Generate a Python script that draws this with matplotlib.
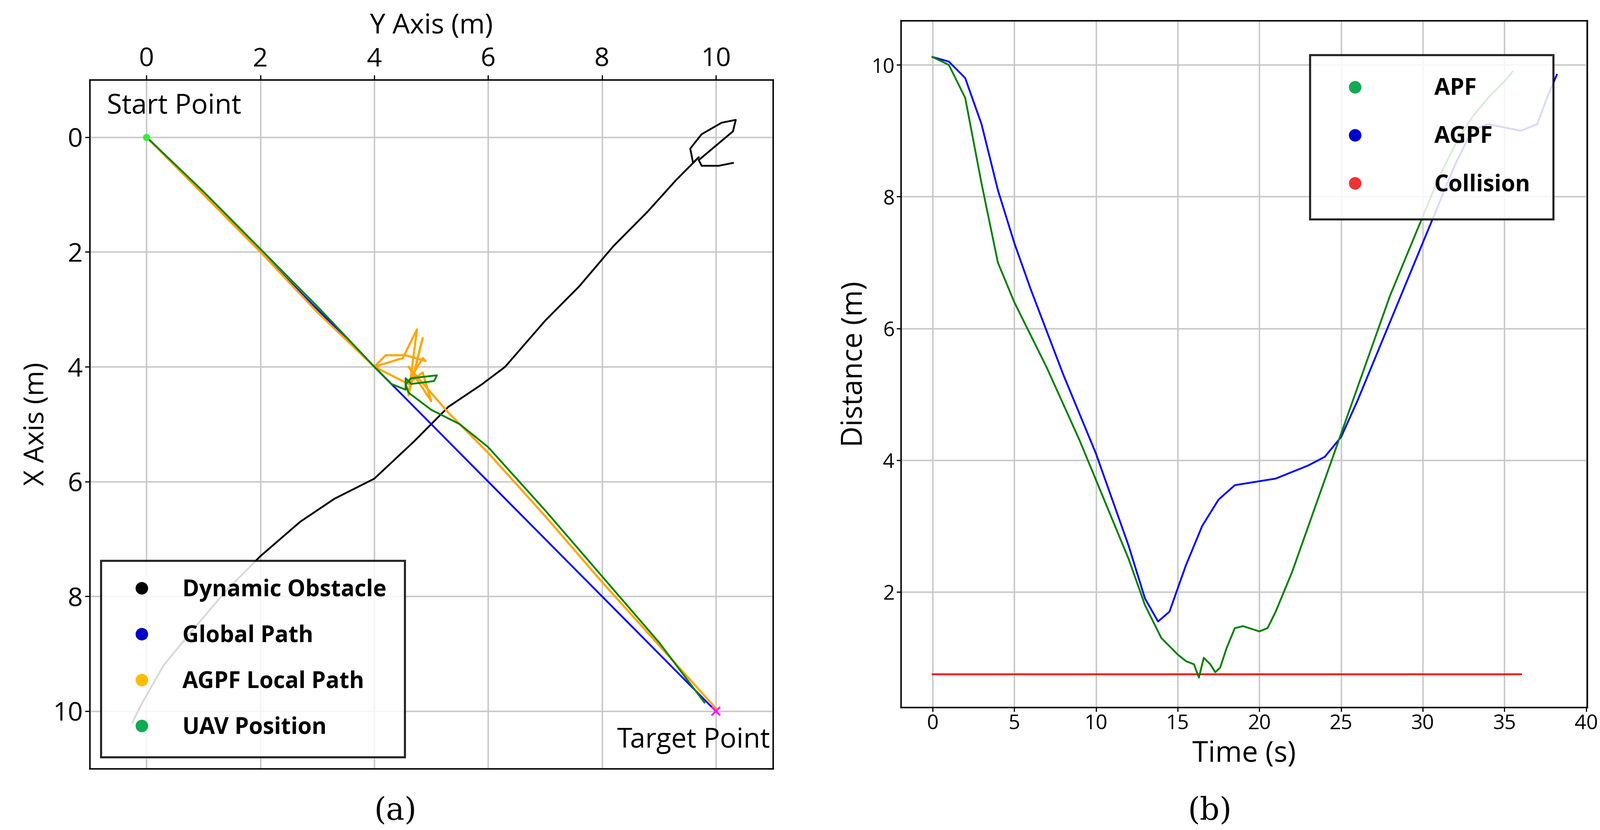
import matplotlib.pyplot as plt
from matplotlib.lines import Line2D

# ---- panel (a): paths, plotted as (Y, X) in metres ----
obs_y = [-0.25, -0.1, 0.3, 0.8, 1.4, 2.0, 2.7, 3.3, 4.0, 4.7, 5.3, 5.9, 6.3, 7.0, 7.6, 8.2, 8.8, 9.3, 9.7,
         9.6, 9.55, 9.75, 10.1, 10.35, 10.3, 10.0, 9.7, 9.75, 10.05, 10.3]
obs_x = [10.2, 9.9, 9.2, 8.6, 7.9, 7.3, 6.7, 6.3, 5.95, 5.3, 4.7, 4.3, 4.0, 3.2, 2.6, 1.9, 1.3, 0.75, 0.35,
         0.45, 0.2, -0.05, -0.25, -0.3, -0.1, 0.15, 0.4, 0.5, 0.5, 0.45]
glob_y = [0, 4, 10]
glob_x = [0, 4, 10]
uav_y = [0, 1, 2, 3, 4, 4.3, 4.55, 4.55, 4.65, 5.05, 5.1, 4.65, 4.55, 4.6, 5.0, 5.5, 6.0, 7.0, 8.0, 9.0, 9.8]
uav_x = [0, 0.95, 1.95, 2.95, 4.0, 4.3, 4.4, 4.2, 4.3, 4.25, 4.15, 4.2, 4.3, 4.45, 4.75, 5.0, 5.4, 6.5, 7.65, 8.8, 9.85]
loc_y = [0, 1, 2, 3, 4, 4.5, 4.75, 4.6, 4.85, 4.7, 4.85, 4.9, 4.55, 4.2, 4.0, 4.6, 4.85, 5.0, 4.6, 5.3, 6.0, 7.0, 8.0, 9.0, 10.0]
loc_x = [0, 1.0, 2.0, 3.05, 4.0, 3.85, 3.35, 4.5, 3.5, 4.1, 3.85, 3.9, 3.8, 3.8, 4.0, 4.3, 4.1, 4.6, 4.0, 4.8, 5.5, 6.6, 7.75, 8.85, 9.95]

# ---- panel (b): distance to obstacle over time ----
agpf_t = [0, 1, 2, 3, 4, 5, 6, 7, 8, 9, 10, 11, 12, 13, 13.8, 14.5, 15.5, 16.5, 17.5, 18.5, 20, 21, 22, 23,
          24, 25, 26, 27, 28, 29, 30, 31, 32, 33, 34, 35, 36, 37, 37.6, 38.2]
agpf_d = [10.12, 10.05, 9.8, 9.1, 8.1, 7.3, 6.6, 5.95, 5.3, 4.7, 4.1, 3.4, 2.7, 1.9, 1.55, 1.7, 2.4, 3.0, 3.4,
          3.62, 3.68, 3.72, 3.82, 3.92, 4.05, 4.35, 4.9, 5.5, 6.1, 6.7, 7.3, 7.9, 8.5, 9.0, 9.1, 9.05, 9.0, 9.1, 9.5, 9.85]
apf_t = [0, 1, 2, 3, 4, 5, 6, 7, 8, 9, 10, 11, 12, 13, 14, 15, 15.5, 16, 16.3, 16.6, 17, 17.3, 17.6, 18, 18.5,
         19, 20, 20.5, 21, 22, 23, 24, 25, 26, 27, 28, 29, 30, 31, 32, 33, 34, 35, 35.5]
apf_d = [10.12, 10.0, 9.5, 8.2, 7.0, 6.4, 5.9, 5.4, 4.85, 4.3, 3.7, 3.1, 2.5, 1.8, 1.3, 1.05, 0.95, 0.9, 0.7,
         1.0, 0.9, 0.78, 0.85, 1.15, 1.45, 1.48, 1.4, 1.45, 1.7, 2.3, 3.0, 3.7, 4.4, 5.1, 5.8, 6.5, 7.1, 7.7,
         8.3, 8.8, 9.2, 9.5, 9.75, 9.9]
coll_t = [0, 36]
coll_d = [0.75, 0.75]

plt.rcParams['font.family'] = 'Open Sans'
fig = plt.figure(figsize=(37.28, 19.35), dpi=100)

ax1 = fig.add_axes([0.056, 0.074, 0.427, 0.83])
ax1.plot(obs_y, obs_x, color='black', lw=3)
ax1.plot(glob_y, glob_x, color='blue', lw=3)
ax1.plot(loc_y, loc_x, color='orange', lw=3.5)
ax1.plot(uav_y, uav_x, color='green', lw=3)
ax1.plot([0], [0], 'o', color='#33ee33', ms=11)
ax1.plot([10], [10], 'x', color='magenta', ms=14, mew=3)
ax1.text(-0.7, -0.3, 'Start Point', fontsize=46, va='bottom')
ax1.text(10.95, 10.75, 'Target Point', fontsize=46, ha='right', va='bottom')
ax1.set_xlim(-1, 11)
ax1.set_ylim(11, -1)
ax1.xaxis.tick_top()
ax1.xaxis.set_label_position('top')
ax1.set_xticks([0, 2, 4, 6, 8, 10])
ax1.set_yticks([0, 2, 4, 6, 8, 10])
ax1.tick_params(labelsize=44, length=8, width=2)
ax1.set_xlabel('Y Axis (m)', fontsize=46, labelpad=22)
ax1.set_ylabel('X Axis (m)', fontsize=46)
ax1.grid(True, color='#c8c8c8', lw=2.5)
for s in ax1.spines.values():
    s.set_linewidth(2.5)
h1 = [Line2D([], [], ls='', marker='o', ms=20, color=c) for c in ['black', '#0000cc', '#ffbb00', '#11aa55']]
lg1 = ax1.legend(h1, ['Dynamic Obstacle', 'Global Path', 'AGPF Local Path', 'UAV Position'],
                 loc='lower left', prop={'weight': 'bold', 'size': 38}, frameon=True,
                 fancybox=False, edgecolor='black', labelspacing=1.0, borderpad=0.8)
lg1.get_frame().set_linewidth(3.5)
lg1.get_frame().set_alpha(0.85)

ax2 = fig.add_axes([0.563, 0.148, 0.429, 0.827])
ax2.plot(coll_t, coll_d, color='red', lw=3)
ax2.plot(agpf_t, agpf_d, color='blue', lw=3)
ax2.plot(apf_t, apf_d, color='green', lw=3)
ax2.set_xlim(-1.94, 40.06)
ax2.set_ylim(0.25, 10.67)
ax2.set_xticks(range(0, 41, 5))
ax2.set_yticks([2, 4, 6, 8, 10])
ax2.tick_params(labelsize=34, length=7, width=2)
ax2.set_xlabel('Time (s)', fontsize=48, labelpad=10)
ax2.set_ylabel('Distance (m)', fontsize=48)
ax2.grid(True, color='#c8c8c8', lw=2.5)
for s in ax2.spines.values():
    s.set_linewidth(2.5)
h2 = [Line2D([], [], ls='', marker='o', ms=20, color=c) for c in ['#11aa55', '#0000cc', '#ee3333']]
lg2 = ax2.legend(h2, ['APF', 'AGPF', 'Collision'], loc='upper right', prop={'weight': 'bold', 'size': 38},
                 frameon=True, fancybox=False, edgecolor='black', labelspacing=1.1, borderpad=1.0,
                 handletextpad=2.5, borderaxespad=1.5)
lg2.get_frame().set_linewidth(3.5)
lg2.get_frame().set_alpha(0.85)

fig.text(0.247, 0.005, '(a)', fontsize=52, family='DejaVu Serif', ha='center', va='bottom')
fig.text(0.756, 0.005, '(b)', fontsize=52, family='DejaVu Serif', ha='center', va='bottom')

fig.savefig('out.png', dpi=100)
